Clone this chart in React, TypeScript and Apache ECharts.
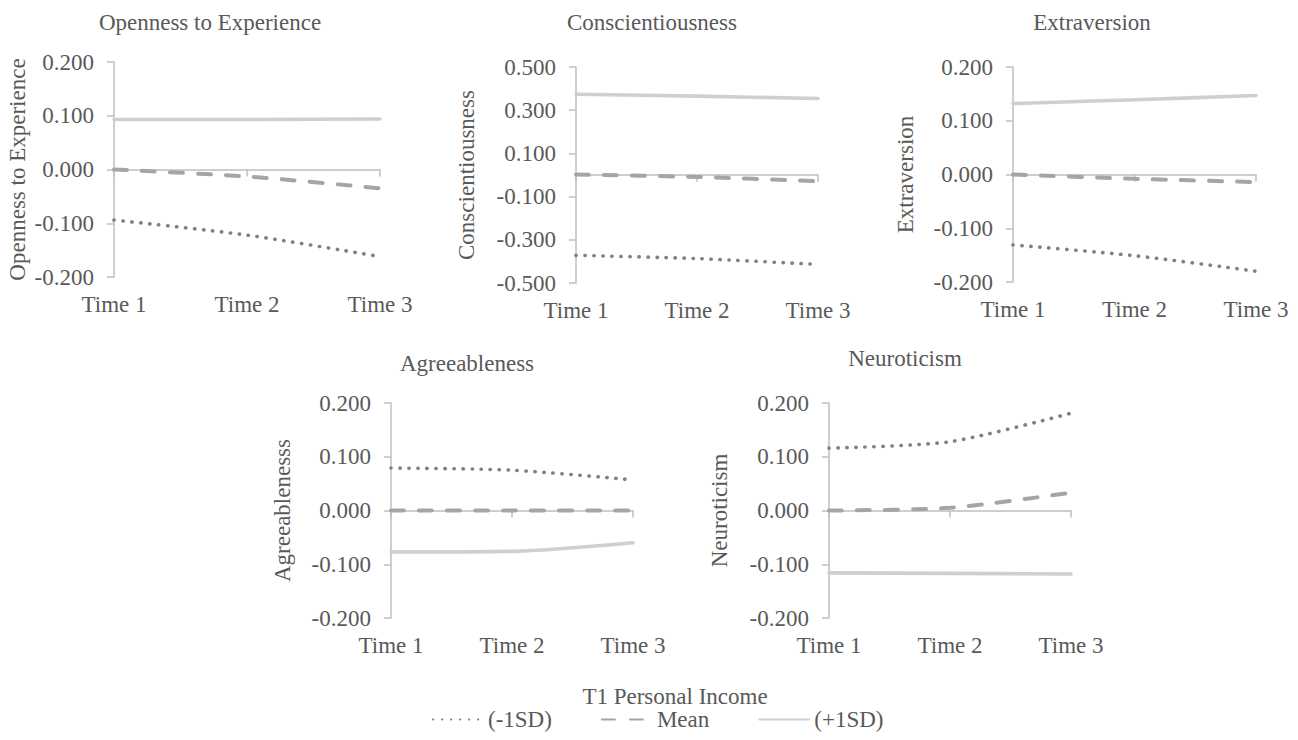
import React, { useEffect, useRef } from "react";
import * as echarts from "echarts";

const categories = ["Time 1", "Time 2", "Time 3"];
const seriesNames = ["(-1SD)", "Mean", "(+1SD)"];
const panelTitles = ["Openness to Experience", "Conscientiousness", "Extraversion", "Agreeableness", "Neuroticism"];
const axisTitles = ["Openness to Experience", "Conscientiousness", "Extraversion", "Agreeablenesss", "Neuroticism"];
const legendTitle = "T1 Personal Income";

const opennessLow = [-0.094, -0.122, -0.162];
const opennessMean = [0.0, -0.013, -0.035];
const opennessHigh = [0.093, 0.093, 0.094];

const conscLow = [-0.372, -0.387, -0.414];
const conscMean = [0.002, -0.009, -0.029];
const conscHigh = [0.374, 0.365, 0.354];

const extraLow = [-0.131, -0.151, -0.18];
const extraMean = [0.0, -0.008, -0.014];
const extraHigh = [0.132, 0.139, 0.147];

const agreeLow = [0.079, 0.075, 0.057];
const agreeMean = [0.0, 0.0, 0.0];
const agreeHigh = [-0.077, -0.076, -0.06];

const neuroLow = [0.116, 0.128, 0.181];
const neuroMean = [0.0, 0.005, 0.033];
const neuroHigh = [-0.116, -0.117, -0.118];

const axisRanges = [
  { min: -0.2, max: 0.2, interval: 0.1 },
  { min: -0.5, max: 0.5, interval: 0.2 },
  { min: -0.2, max: 0.2, interval: 0.1 },
  { min: -0.2, max: 0.2, interval: 0.1 },
  { min: -0.2, max: 0.2, interval: 0.1 },
];

const panelData = [
  [opennessLow, opennessMean, opennessHigh],
  [conscLow, conscMean, conscHigh],
  [extraLow, extraMean, extraHigh],
  [agreeLow, agreeMean, agreeHigh],
  [neuroLow, neuroMean, neuroHigh],
];

// layout (positions only)
const grids = [
  { left: 114, top: 62, width: 266, height: 215, nameGap: 85, titleX: 205, titleY: 6 },
  { left: 576, top: 67, width: 242, height: 216, nameGap: 98, titleX: 647, titleY: 6 },
  { left: 1013, top: 67, width: 243, height: 215, nameGap: 96, titleX: 1087, titleY: 6 },
  { left: 391, top: 403, width: 242, height: 215, nameGap: 97, titleX: 462, titleY: 347 },
  { left: 829, top: 403, width: 242, height: 215, nameGap: 98, titleX: 900, titleY: 342 },
];

const FONT = "Liberation Serif";
const FS = 23;
const TEXT = "#595959";
const AXIS = "#bfbfbf";

const lineStyles = [
  { color: "#808080", width: 3.6, type: [0.3, 8.7], cap: "round" },
  { color: "#a5a5a5", width: 4, type: [13, 15], cap: "round" },
  { color: "#cfcfcf", width: 3.6, type: "solid", cap: "round" },
];

export default function App() {
  const ref = useRef<HTMLDivElement>(null);
  useEffect(() => {
    if (!ref.current) return;
    const chart = echarts.init(ref.current, null, { renderer: "svg" });

    const titles: any[] = grids.map((g, i) => ({
      text: panelTitles[i],
      left: g.titleX,
      top: g.titleY,
      textAlign: "center",
      textStyle: { fontFamily: FONT, fontSize: FS, fontWeight: "normal", color: TEXT },
    }));
    titles.push({
      text: legendTitle,
      left: 670,
      top: 680,
      textAlign: "center",
      textStyle: { fontFamily: FONT, fontSize: FS, fontWeight: "normal", color: TEXT },
    });

    const xAxes = grids.map((_, i) => ({
      type: "category",
      gridIndex: i,
      data: categories,
      boundaryGap: false,
      axisLine: { lineStyle: { color: AXIS, width: 1.5 } },
      axisTick: { show: true, length: 7, lineStyle: { color: AXIS, width: 1.5 } },
      axisLabel: { fontFamily: FONT, fontSize: FS, color: TEXT, margin: 16 },
      splitLine: { show: false },
    }));

    const yAxes = grids.map((g, i) => ({
      type: "value",
      gridIndex: i,
      min: axisRanges[i].min,
      max: axisRanges[i].max,
      interval: axisRanges[i].interval,
      name: axisTitles[i],
      nameLocation: "middle",
      nameRotate: 90,
      nameGap: g.nameGap,
      nameTextStyle: { fontFamily: FONT, fontSize: FS, color: TEXT },
      axisLine: { show: true, lineStyle: { color: AXIS, width: 1.5 } },
      axisTick: { show: true, length: 7, lineStyle: { color: AXIS, width: 1.5 } },
      axisLabel: {
        fontFamily: FONT,
        fontSize: FS,
        color: TEXT,
        margin: 20,
        formatter: (v: number) => (Math.abs(v) < 1e-9 ? "0.000" : v.toFixed(3)),
      },
      splitLine: { show: false },
    }));

    const series: any[] = [];
    panelData.forEach((sets, i) => {
      sets.forEach((vals, k) => {
        series.push({
          type: "line",
          name: seriesNames[k],
          xAxisIndex: i,
          yAxisIndex: i,
          data: vals,
          smooth: 0.25,
          symbol: "none",
          showSymbol: false,
          lineStyle: lineStyles[k],
          itemStyle: { color: lineStyles[k].color },
          z: 3 - k,
        });
      });
    });

    chart.setOption({
      animation: false,
      backgroundColor: "#ffffff",
      title: titles,
      grid: grids.map((g) => ({ left: g.left, top: g.top, width: g.width, height: g.height, containLabel: false })),
      xAxis: xAxes,
      yAxis: yAxes,
      legend: {
        data: seriesNames,
        left: 432,
        top: 708,
        padding: 0,
        itemWidth: 50,
        itemHeight: 20,
        itemGap: 49,
        itemStyle: { opacity: 0, borderWidth: 0 },
        textStyle: { fontFamily: FONT, fontSize: FS, color: TEXT },
        selectedMode: false,
      },
      series,
    });
    return () => chart.dispose();
  }, []);

  return (
    <div
      ref={ref}
      style={{ position: "fixed", left: 0, top: 0, width: 1298, height: 740, background: "#fff" }}
    />
  );
}
